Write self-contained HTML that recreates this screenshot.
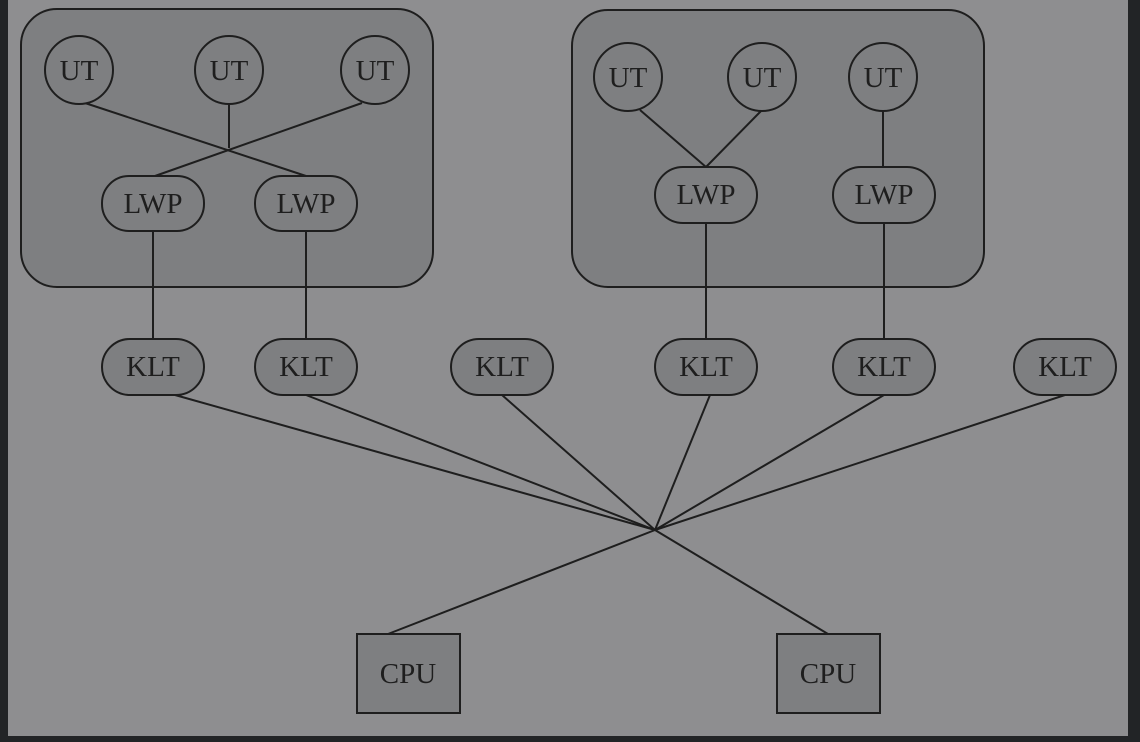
<!DOCTYPE html>
<html><head><style>
html,body{margin:0;padding:0;background:#222426;}
svg{display:block}
text{font-family:"Liberation Serif",serif;font-size:29px;fill:#1e1e1e;text-anchor:middle;dominant-baseline:central}
</style></head><body>
<svg width="1140" height="742" viewBox="0 0 1140 742">
<rect x="0" y="0" width="1140" height="742" fill="#222426"/>
<rect x="8" y="0" width="1120" height="736" fill="#8e8e90"/>
<g stroke="#1e1e1e" stroke-width="2" fill="#7e7f81">
<rect x="21" y="9" width="412" height="278" rx="36"/>
<rect x="572" y="10" width="412" height="277" rx="36"/>
</g>
<g stroke="#1e1e1e" stroke-width="2" fill="none">
<line x1="85" y1="103" x2="306" y2="176"/>
<line x1="362" y1="103" x2="155" y2="176"/>
<line x1="229" y1="104" x2="229" y2="148"/>
<line x1="153" y1="231" x2="153" y2="339"/>
<line x1="306" y1="231" x2="306" y2="339"/>
<line x1="640" y1="110" x2="706" y2="167"/>
<line x1="762" y1="110" x2="706" y2="167"/>
<line x1="883" y1="111" x2="883" y2="167"/>
<line x1="706" y1="223" x2="706" y2="339"/>
<line x1="884" y1="223" x2="884" y2="339"/>
<line x1="175" y1="395" x2="655" y2="530"/>
<line x1="306" y1="395" x2="655" y2="530"/>
<line x1="502" y1="395" x2="655" y2="530"/>
<line x1="710" y1="395" x2="655" y2="530"/>
<line x1="884" y1="395" x2="655" y2="530"/>
<line x1="1065" y1="395" x2="655" y2="530"/>
<line x1="655" y1="530" x2="388" y2="634"/>
<line x1="655" y1="530" x2="828" y2="634"/>
</g>
<g stroke="#1e1e1e" stroke-width="2" fill="#7e7f81">
<circle cx="79" cy="70" r="34"/><circle cx="229" cy="70" r="34"/><circle cx="375" cy="70" r="34"/>
<circle cx="628" cy="77" r="34"/><circle cx="762" cy="77" r="34"/><circle cx="883" cy="77" r="34"/>
<rect x="102" y="176" width="102" height="55" rx="27"/>
<rect x="255" y="176" width="102" height="55" rx="27"/>
<rect x="655" y="167" width="102" height="56" rx="28"/>
<rect x="833" y="167" width="102" height="56" rx="28"/>
<rect x="102" y="339" width="102" height="56" rx="28"/>
<rect x="255" y="339" width="102" height="56" rx="28"/>
<rect x="451" y="339" width="102" height="56" rx="28"/>
<rect x="655" y="339" width="102" height="56" rx="28"/>
<rect x="833" y="339" width="102" height="56" rx="28"/>
<rect x="1014" y="339" width="102" height="56" rx="28"/>
<rect x="357" y="634" width="103" height="79"/>
<rect x="777" y="634" width="103" height="79"/>
</g>
<text x="79" y="71">UT</text><text x="229" y="71">UT</text><text x="375" y="71">UT</text>
<text x="628" y="78">UT</text><text x="762" y="78">UT</text><text x="883" y="78">UT</text>
<text x="153" y="204">LWP</text><text x="306" y="204">LWP</text>
<text x="706" y="195">LWP</text><text x="884" y="195">LWP</text>
<text x="153" y="367">KLT</text><text x="306" y="367">KLT</text><text x="502" y="367">KLT</text>
<text x="706" y="367">KLT</text><text x="884" y="367">KLT</text><text x="1065" y="367">KLT</text>
<text x="408" y="674">CPU</text><text x="828" y="674">CPU</text>
</svg>
</body></html>
